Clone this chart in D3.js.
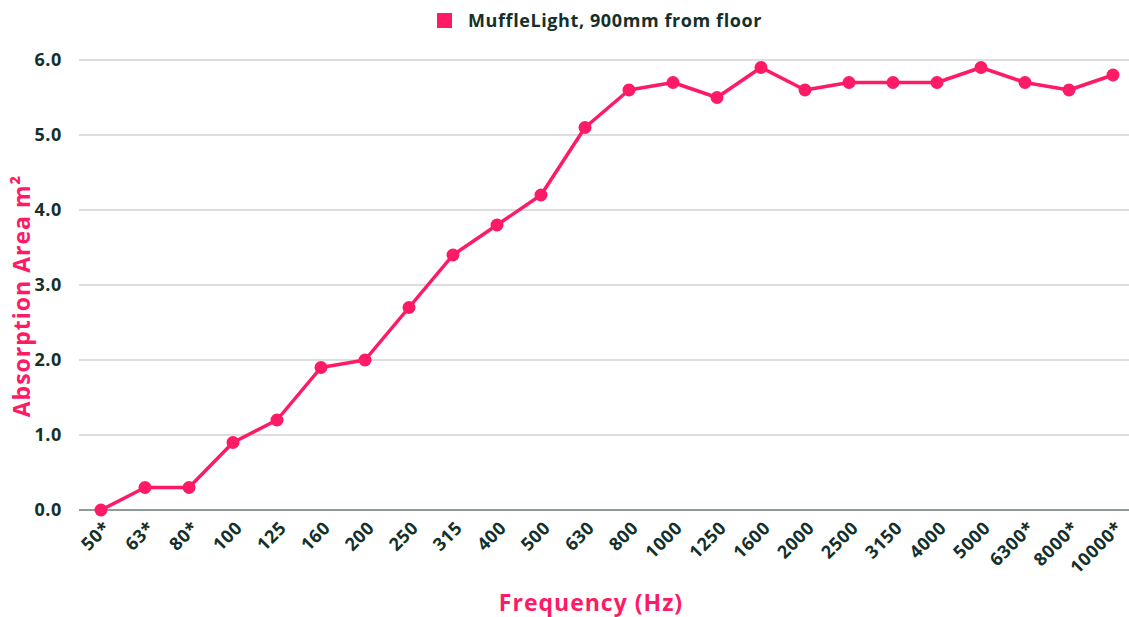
<!DOCTYPE html>
<html>
<head>
<meta charset="utf-8">
<script src="https://cdn.jsdelivr.net/npm/d3@7"></script>
<style>
	body { margin: 0; background: #fff; }
	svg { display: block; font-family: "Open Sans", "Noto Sans", sans-serif; font-weight: 700; }
</style>
</head>
<body>
<svg class="chart" width="1129" height="617"></svg>
<script>
const frequencies = ['50*', '63*', '80*', '100', '125', '160', '200', '250', '315', '400', '500', '630',
	'800', '1000', '1250', '1600', '2000', '2500', '3150', '4000', '5000', '6300*', '8000*', '10000*'];
const absorption = [0, 0.3, 0.3, 0.9, 1.2, 1.9, 2.0, 2.7, 3.4, 3.8, 4.2, 5.1,
	5.6, 5.7, 5.5, 5.9, 5.6, 5.7, 5.7, 5.7, 5.9, 5.7, 5.6, 5.8];
const yTicks = [0, 1, 2, 3, 4, 5, 6];
const seriesName = 'MuffleLight, 900mm from floor';

const pink = '#ff1a66';
const dark = '#14302a';

function startApp() {
	const margin = {top: 60, left: 79, bottom: 107, right: -6};
	const width = 1129 - margin.left - margin.right;
	const height = 617 - margin.top - margin.bottom;
	const svg = d3.select('.chart');
	const chart = svg.append('g')
		.attr('transform', `translate(${margin.left}, ${margin.top})`);

	const xScale = d3.scalePoint().domain(frequencies).range([0, width]).padding(0.5);
	const yScale = d3.scaleLinear().domain([0, 6]).range([height, 0]);

	// grid
	chart.append('g')
		.selectAll('line')
		.data(yTicks)
		.join('line')
		.attr('x1', 0)
		.attr('x2', width)
		.attr('y1', d => yScale(d))
		.attr('y2', d => yScale(d))
		.attr('stroke', d => d === 0 ? '#8e9c98' : '#d0d3d2')
		.attr('stroke-width', d => d === 0 ? 2 : 1.5);

	const yAxis = d3.axisLeft(yScale).tickValues(yTicks).tickFormat(d3.format('.1f')).tickSize(0).tickPadding(17);
	chart.append('g')
		.call(yAxis)
		.call(g => g.select('.domain').remove())
		.selectAll('text')
		.attr('fill', dark)
		.style('font-size', '18px')
		.style('letter-spacing', '0.6px')
		.style('font-family', '"Open Sans", sans-serif')
		.style('font-weight', 700);

	const xAxis = d3.axisBottom(xScale).tickSize(0);
	chart.append('g')
		.attr('transform', `translate(0, ${height})`)
		.call(xAxis)
		.call(g => g.select('.domain').remove())
		.selectAll('text')
		.attr('fill', dark)
		.style('font-size', '18px')
		.style('letter-spacing', '0.6px')
		.style('font-family', '"Open Sans", sans-serif')
		.style('font-weight', 700)
		.attr('text-anchor', 'end')
		.attr('dy', 0)
		.attr('y', 0)
		.attr('transform', 'translate(10, 19) rotate(-45)');

	const line = d3.line()
		.x((d, i) => xScale(frequencies[i]))
		.y(d => yScale(d));
	chart.append('path')
		.datum(absorption)
		.attr('d', line)
		.attr('fill', 'none')
		.attr('stroke', pink)
		.attr('stroke-width', 3.5)
		.attr('stroke-linejoin', 'round');

	chart.append('g')
		.selectAll('circle')
		.data(absorption)
		.join('circle')
		.attr('cx', (d, i) => xScale(frequencies[i]))
		.attr('cy', d => yScale(d))
		.attr('r', 6.5)
		.attr('fill', pink);

	// legend
	svg.append('rect')
		.attr('x', 437).attr('y', 13).attr('width', 15).attr('height', 15)
		.attr('fill', pink);
	svg.append('text')
		.attr('x', 468).attr('y', 27)
		.attr('fill', dark)
		.style('font-size', '18px')
		.style('letter-spacing', '0.6px')
		.text(seriesName);

	// axis titles
	svg.append('text')
		.attr('x', 591).attr('y', 611)
		.attr('text-anchor', 'middle')
		.attr('fill', pink)
		.style('font-size', '23px')
		.style('letter-spacing', '1px')
		.text('Frequency (Hz)');
	svg.append('text')
		.attr('transform', 'translate(30, 296) rotate(-90)')
		.attr('text-anchor', 'middle')
		.attr('fill', pink)
		.style('font-size', '23px')
		.style('letter-spacing', '1px')
		.text('Absorption Area m²');
}

window.onload = startApp;
</script>
</body>
</html>
